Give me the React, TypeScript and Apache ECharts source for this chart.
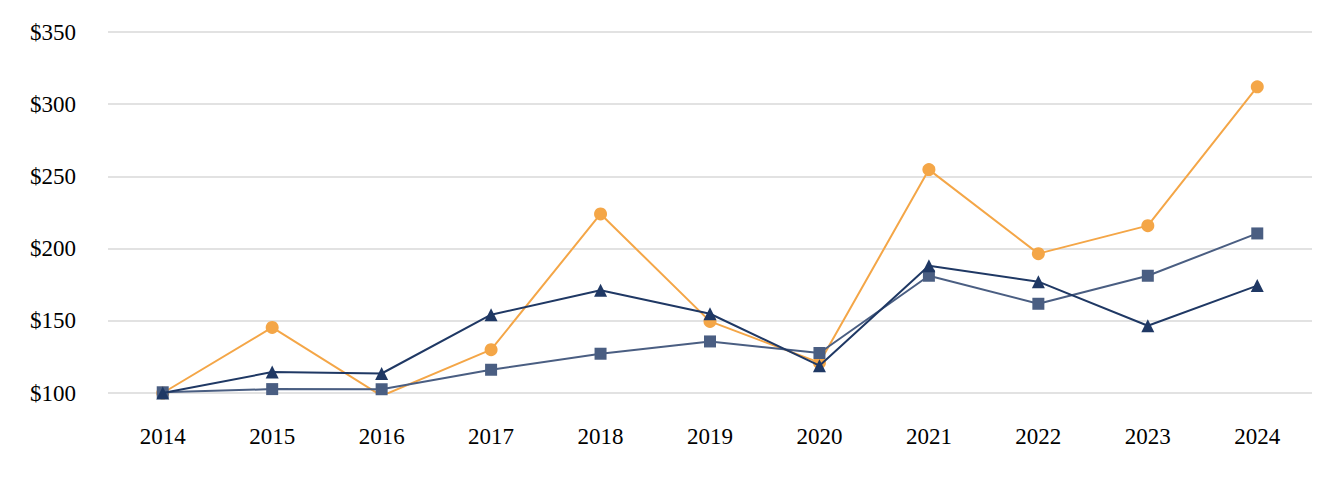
import React, { useEffect, useRef } from "react";
import * as echarts from "echarts";

const years = ["2014", "2015", "2016", "2017", "2018", "2019", "2020", "2021", "2022", "2023", "2024"];
const orangeSeries = [100, 145.4, 98, 130, 224, 149.6, 121, 254.7, 196.5, 215.9, 312];
const squareSeries = [100.5, 102.7, 102.6, 116.1, 127.2, 135.7, 127.7, 181.2, 161.8, 181.2, 210.5];
const triangleSeries = [100, 114.5, 113.5, 154.2, 171.2, 154.9, 118.9, 188.2, 177.1, 146.6, 174.4];

const FONT = "'Liberation Serif', 'Times New Roman', serif";

export default function App() {
  const ref = useRef<HTMLDivElement>(null);
  useEffect(() => {
    if (!ref.current) return;
    const chart = echarts.init(ref.current, null, { renderer: "svg" });
    chart.setOption({
      animation: false,
      backgroundColor: "#ffffff",
      grid: { left: 100, right: 24, top: 24, bottom: 79, containLabel: false },
      xAxis: {
        type: "category",
        data: years,
        boundaryGap: true,
        axisLine: { show: false },
        axisTick: { show: false },
        axisLabel: { color: "#000", fontFamily: FONT, fontSize: 23, margin: 32 },
      },
      yAxis: {
        type: "value",
        min: 100,
        max: 350,
        interval: 50,
        axisLine: { show: false },
        axisTick: { show: false },
        axisLabel: {
          color: "#000",
          fontFamily: FONT,
          fontSize: 23,
          margin: 32,
          formatter: (v: number) => "$" + v,
        },
        splitLine: { lineStyle: { color: "#e2e2e2", width: 2 } },
      },
      series: [
        {
          type: "line",
          data: orangeSeries,
          symbol: "circle",
          symbolSize: 13,
          lineStyle: { color: "#F4A647", width: 2 },
          itemStyle: { color: "#F4A647" },
          z: 2,
        },
        {
          type: "line",
          data: squareSeries,
          symbol: "rect",
          symbolSize: 12,
          lineStyle: { color: "#4A5E82", width: 2 },
          itemStyle: { color: "#4A5E82" },
          z: 3,
        },
        {
          type: "line",
          data: triangleSeries,
          symbol: "triangle",
          symbolSize: 13,
          lineStyle: { color: "#1F3864", width: 2 },
          itemStyle: { color: "#1F3864" },
          z: 4,
        },
      ],
    });
    return () => chart.dispose();
  }, []);
  return <div ref={ref} style={{ width: 1328, height: 464 }} />;
}
